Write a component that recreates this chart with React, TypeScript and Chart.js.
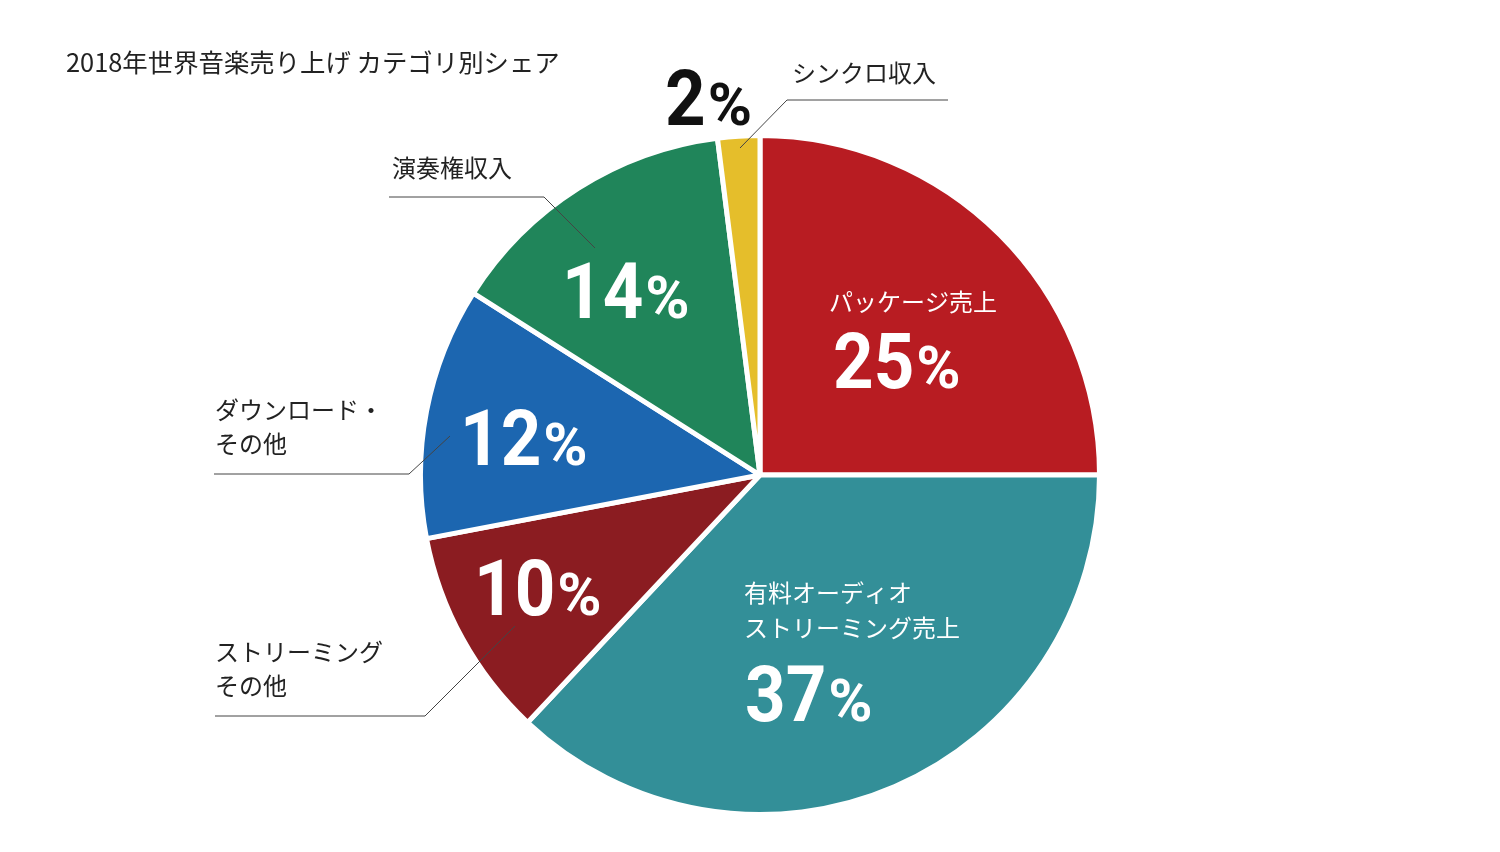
import React, { useEffect, useRef } from "react";
import { Chart, registerables } from "chart.js";

Chart.register(...registerables);

const titleText = "2018年世界音楽売り上げ カテゴリ別シェア";
const categories = [
  "パッケージ売上",
  "有料オーディオストリーミング売上",
  "ストリーミングその他",
  "ダウンロード・その他",
  "演奏権収入",
  "シンクロ収入",
];
const shares = [25, 37, 10, 12, 14, 2];
const sliceColors = ["#B81C22", "#338F98", "#8B1C21", "#1C66B0", "#20855A", "#E5BE2B"];
const labelLines = [
  ["パッケージ売上"],
  ["有料オーディオ", "ストリーミング売上"],
  ["ストリーミング", "その他"],
  ["ダウンロード・", "その他"],
  ["演奏権収入"],
  ["シンクロ収入"],
];

// annotation layout (offsets from pie centre, px)
type Anno = {
  name: [number, number];
  lineGap: number;
  pct: [number, number];
  pctColor: string;
  nameColor: string;
  leader?: [number, number][];
};
const annos: Anno[] = [
  { name: [69, -173], lineGap: 35, pct: [73, -87], pctColor: "#fff", nameColor: "#fff" },
  { name: [-16, 118], lineGap: 35, pct: [-15, 246], pctColor: "#fff", nameColor: "#fff" },
  {
    name: [-545, 177], lineGap: 34, pct: [-286, 140], pctColor: "#fff", nameColor: "#222",
    leader: [[-545, 241], [-335, 241], [-245, 151]],
  },
  {
    name: [-545, -65], lineGap: 34, pct: [-300, -10], pctColor: "#fff", nameColor: "#222",
    leader: [[-546, -1], [-351, -1], [-310, -39]],
  },
  {
    name: [-368, -307], lineGap: 34, pct: [-198, -157], pctColor: "#fff", nameColor: "#222",
    leader: [[-371, -278], [-216, -278], [-165, -227]],
  },
  {
    name: [32, -402], lineGap: 34, pct: [-95, -350], pctColor: "#111", nameColor: "#222",
    leader: [[188, -375], [27, -375], [-20, -327]],
  },
];

const JP = '"Noto Sans CJK JP", "Noto Sans", sans-serif';
const NUM = 'Roboto, "DejaVu Sans", sans-serif';

function drawPct(ctx: CanvasRenderingContext2D, x: number, y: number, value: number, color: string) {
  ctx.save();
  ctx.translate(x, y);
  ctx.fillStyle = color;
  ctx.textAlign = "left";
  ctx.textBaseline = "alphabetic";
  ctx.font = `700 77px ${NUM}`;
  const s = String(value);
  const w = ctx.measureText(s).width * 0.92;
  ctx.save();
  ctx.scale(0.92, 1);
  ctx.fillText(s, 0, 0);
  ctx.restore();
  ctx.font = `700 60px ${NUM}`;
  ctx.fillText("%", w + 2, 0);
  ctx.restore();
}

const annotationPlugin = {
  id: "annos",
  afterDraw(chart: any) {
    const ctx: CanvasRenderingContext2D = chart.ctx;
    const arc = chart.getDatasetMeta(0).data[0];
    const cx = arc.x;
    const cy = arc.y;
    ctx.save();
    // title
    ctx.fillStyle = "#222";
    ctx.font = `400 25.4px ${JP}`;
    ctx.textBaseline = "middle";
    ctx.textAlign = "left";
    ctx.fillText(titleText, 66, 62);

    annos.forEach((a, i) => {
      if (a.leader) {
        ctx.beginPath();
        ctx.strokeStyle = "#444";
        ctx.lineWidth = 1;
        a.leader.forEach((p, k) => {
          if (k === 0) ctx.moveTo(cx + p[0], cy + p[1]);
          else ctx.lineTo(cx + p[0], cy + p[1]);
        });
        ctx.stroke();
      }
      ctx.fillStyle = a.nameColor;
      ctx.font = `400 24px ${JP}`;
      ctx.textBaseline = "middle";
      ctx.textAlign = "left";
      labelLines[i].forEach((t, k) => {
        ctx.fillText(t, cx + a.name[0], cy + a.name[1] + k * a.lineGap);
      });
      drawPct(ctx, cx + a.pct[0], cy + a.pct[1], shares[i], a.pctColor);
    });
    ctx.restore();
  },
};

export default function App() {
  const ref = useRef<HTMLCanvasElement | null>(null);
  useEffect(() => {
    document.body.style.margin = "0";
    const canvas = ref.current!;
    const chart = new Chart(canvas, {
      type: "pie",
      data: {
        labels: categories,
        datasets: [
          {
            data: shares,
            backgroundColor: sliceColors,
            borderColor: "#ffffff",
            borderWidth: 5,
          },
        ],
      },
      options: {
        responsive: false,
        animation: false,
        layout: { padding: { left: 418, top: 133, right: 398, bottom: 35 } },
        plugins: { legend: { display: false }, tooltip: { enabled: false } },
      },
      plugins: [annotationPlugin],
    });
    return () => chart.destroy();
  }, []);
  return (
    <div style={{ width: 1500, height: 852, background: "#fff" }}>
      <canvas ref={ref} width={1500} height={852} style={{ display: "block", width: 1500, height: 852 }} />
    </div>
  );
}
